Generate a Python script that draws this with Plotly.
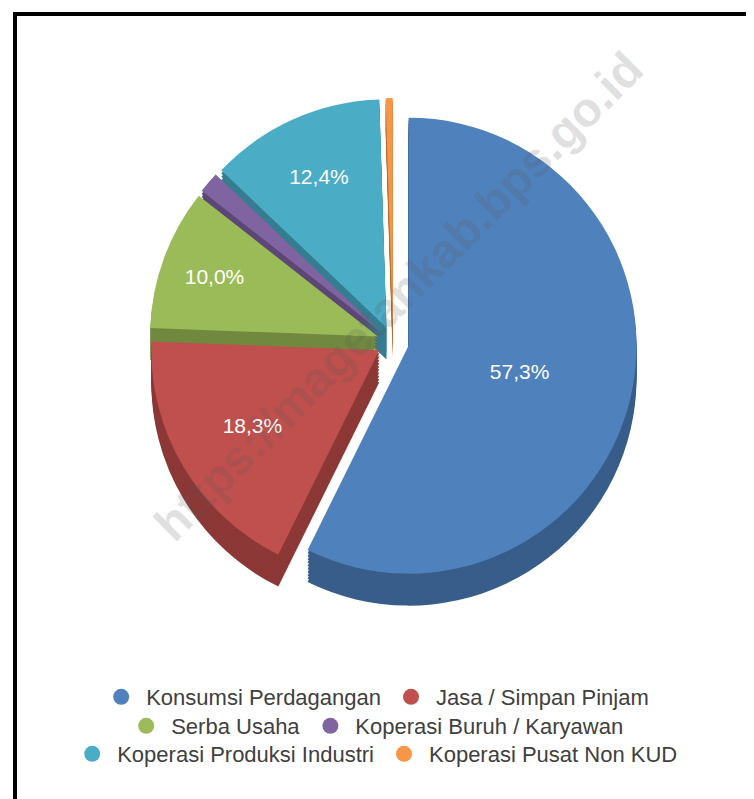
import plotly.graph_objects as go

categories = ["Konsumsi Perdagangan", "Jasa / Simpan Pinjam", "Serba Usaha",
              "Koperasi Buruh / Karyawan", "Koperasi Produksi Industri",
              "Koperasi Pusat Non KUD"]
values = [57.3, 18.3, 10.0, 1.5, 12.4, 0.5]
labels_text = ["57,3%", "18,3%", "10,0%", "", "12,4%", ""]
top_colors = ["#4F81BD", "#C0504D", "#9BBB59", "#8064A2", "#4BACC6", "#F79646"]
side_colors = ["#385D8A", "#8C3836", "#71893F", "#5C4776", "#357D91", "#B66D31"]
legend_rows = [[0, 1], [2, 3], [4, 5]]

W, H = 754, 799
PULL = 0.07
R = 228                 # pie radius in px
CX, CY = 385, 334       # centre of top face (px from top-left)
DEPTH = 32
N_LAYERS = 10
half = R * (1 + PULL)


def domain(cx, cy):
    return dict(x=[(cx - half) / W, (cx + half) / W],
                y=[(H - cy - half) / H, (H - cy + half) / H])


fig = go.Figure()

# side (depth) layers, drawn back to front
for k in range(N_LAYERS, 0, -1):
    off = DEPTH * k / N_LAYERS
    fig.add_trace(go.Pie(
        labels=categories, values=values, sort=False, direction="clockwise",
        rotation=0, pull=[PULL] * len(values),
        marker=dict(colors=side_colors, line=dict(width=0)),
        textinfo="none", hoverinfo="skip", showlegend=False,
        domain=domain(CX, CY + off)))

# top face
fig.add_trace(go.Pie(
    labels=categories, values=values, sort=False, direction="clockwise",
    rotation=0, pull=[PULL] * len(values),
    marker=dict(colors=top_colors, line=dict(width=0)),
    text=labels_text, textinfo="text", textposition="inside",
    insidetextorientation="horizontal",
    textfont=dict(color="white", size=21, family="Liberation Sans, Arial, sans-serif"),
    hovertemplate="%{label}: %{value}%<extra></extra>",
    showlegend=False, domain=domain(CX, CY)))

# legend entries (circle markers), one legend per row
legend_y = [689, 718, 746]
for r, row in enumerate(legend_rows):
    lname = "legend" if r == 0 else f"legend{r + 1}"
    for i in row:
        fig.add_trace(go.Scatter(
            x=[None], y=[None], mode="markers", name=categories[i],
            marker=dict(color=top_colors[i], size=18, symbol="circle"),
            legend=lname, showlegend=True, hoverinfo="skip"))

legend_common = dict(orientation="h", xanchor="center", x=0.487, yanchor="middle",
                     bgcolor="rgba(0,0,0,0)", itemwidth=40,
                     font=dict(size=22, color="#404040",
                               family="Liberation Sans, Arial, sans-serif"),
                     itemclick=False, itemdoubleclick=False)

layout_legends = {}
for r in range(3):
    lname = "legend" if r == 0 else f"legend{r + 1}"
    layout_legends[lname] = dict(legend_common, y=(H - legend_y[r]) / H)

fig.update_layout(
    width=W, height=H,
    margin=dict(l=0, r=0, t=0, b=0),
    paper_bgcolor="white", plot_bgcolor="white",
    xaxis=dict(visible=False), yaxis=dict(visible=False),
    **layout_legends,
    shapes=[
        dict(type="line", xref="paper", yref="paper",
             x0=7 / W, x1=7 / W, y0=-0.05, y1=(H - 4) / H,
             line=dict(color="black", width=4)),
        dict(type="line", xref="paper", yref="paper",
             x0=5 / W, x1=1.05, y0=(H - 6) / H, y1=(H - 6) / H,
             line=dict(color="black", width=4)),
    ],
    annotations=[
        dict(text="https://magetankab.bps.go.id", xref="paper", yref="paper",
             x=390 / W, y=(H - 288) / H, showarrow=False, textangle=-45,
             font=dict(size=48, color="rgba(90,90,90,0.2)",
                       family="Liberation Sans, Arial, sans-serif", weight="bold")),
    ],
)

fig.write_html("out.html")
